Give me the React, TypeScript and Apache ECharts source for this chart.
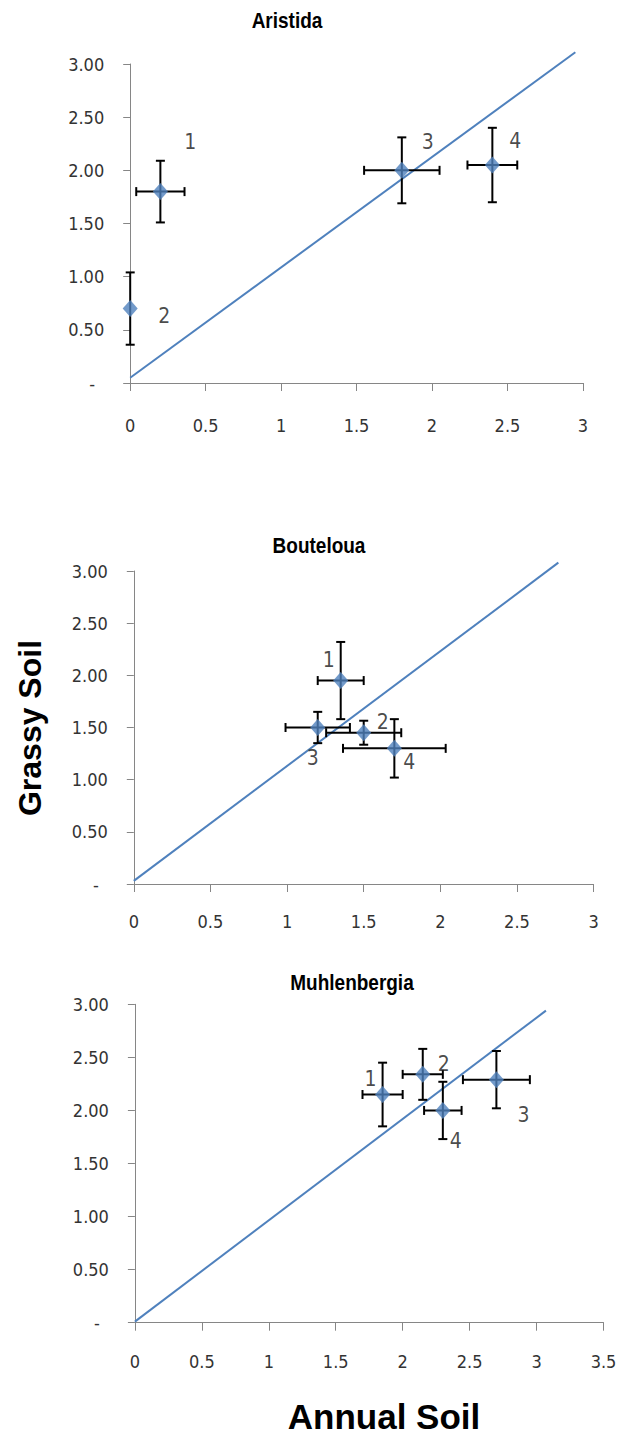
import React, { useEffect, useRef } from "react";
import * as echarts from "echarts";

// ---- data ----
const pointNames = ["1", "2", "3", "4"];

const aristidaX = [0.2, 0, 1.8, 2.4];
const aristidaY = [1.8, 0.7, 2.0, 2.05];
const aristidaXErr = [0.16, 0, 0.25, 0.165];
const aristidaYErr = [0.29, 0.34, 0.31, 0.35];
const aristidaLine = [[0, 0.05], [2.95, 3.11]];

const boutelouaX = [1.35, 1.5, 1.2, 1.7];
const boutelouaY = [1.95, 1.45, 1.5, 1.3];
const boutelouaXErr = [0.15, 0.245, 0.21, 0.335];
const boutelouaYErr = [0.37, 0.115, 0.15, 0.28];
const boutelouaLine = [[0, 0.03], [2.77, 3.08]];

const muhlenbergiaX = [1.85, 2.15, 2.7, 2.3];
const muhlenbergiaY = [2.15, 2.34, 2.29, 2.0];
const muhlenbergiaXErr = [0.15, 0.15, 0.25, 0.14];
const muhlenbergiaYErr = [0.3, 0.24, 0.27, 0.27];
const muhlenbergiaLine = [[0, 0.01], [3.07, 2.94]];

const yTicks = [0, 0.5, 1, 1.5, 2, 2.5, 3];
const panelTitles = ["Aristida", "Bouteloua", "Muhlenbergia"];
const xMaxes = [3, 3, 3.5];
const yAxisTitle = "Grassy Soil";
const xAxisTitle = "Annual Soil";

// ---- layout / styles (not data) ----
const labelOffsets = [
  [[30, -50], [34, 7], [26, -28], [23, -24]],
  [[-12, -21], [19, -11], [-5, 30], [15, 14]],
  [[-12, -16], [21, -10], [27, 35], [13, 31]],
];
const grids = [
  { left: 130.2, top: 64, width: 452.7, height: 319 },
  { left: 133.8, top: 571, width: 459.8, height: 313 },
  { left: 134.9, top: 1004.3, width: 468.6, height: 318.4 },
];
const xLabelMargins = [33, 28, 30];
const titlePos = [
  [287, 20],
  [319, 545],
  [352, 982],
];

const COND = "'DejaVu Sans Condensed', 'DejaVu Sans', sans-serif";
const SANS = "'Liberation Sans', Arial, sans-serif";
const BLUE = "#4F81BD";
const AXIS = "#868686";

export default function App() {
  const ref = useRef<HTMLDivElement>(null);
  useEffect(() => {
    if (!ref.current) return;
    const chart = echarts.init(ref.current, null, { renderer: "svg" });

    const panels = [
      { x: aristidaX, y: aristidaY, ex: aristidaXErr, ey: aristidaYErr, line: aristidaLine },
      { x: boutelouaX, y: boutelouaY, ex: boutelouaXErr, ey: boutelouaYErr, line: boutelouaLine },
      { x: muhlenbergiaX, y: muhlenbergiaY, ex: muhlenbergiaXErr, ey: muhlenbergiaYErr, line: muhlenbergiaLine },
    ];

    const xAxes: any[] = [];
    const yAxes: any[] = [];
    const series: any[] = [];

    panels.forEach((p, i) => {
      xAxes.push({
        type: "value",
        gridIndex: i,
        min: 0,
        max: xMaxes[i],
        interval: 0.5,
        splitLine: { show: false },
        axisLine: { show: true, onZero: false, lineStyle: { color: AXIS, width: 1 } },
        axisTick: { show: true, length: 8, lineStyle: { color: AXIS } },
        axisLabel: {
          margin: xLabelMargins[i],
          color: "#333",
          fontFamily: COND,
          fontSize: 18,
          formatter: (v: number) => String(v),
        },
      });
      yAxes.push({
        type: "value",
        gridIndex: i,
        min: yTicks[0],
        max: yTicks[yTicks.length - 1],
        interval: 0.5,
        splitLine: { show: false },
        axisLine: { show: true, onZero: false, lineStyle: { color: AXIS, width: 1 } },
        axisTick: { show: true, length: 7, lineStyle: { color: AXIS } },
        axisLabel: {
          margin: 26,
          color: "#333",
          fontFamily: COND,
          fontSize: 18,
          formatter: (v: number) => (v === 0 ? "{d|-}" : v.toFixed(2)),
          rich: { d: { padding: [0, 9, 0, 0], fontFamily: COND, fontSize: 18, color: "#333" } },
        },
      });

      series.push({
        type: "line",
        xAxisIndex: i,
        yAxisIndex: i,
        data: p.line,
        showSymbol: false,
        symbol: "none",
        clip: false,
        lineStyle: { color: BLUE, width: 2 },
        z: 1,
      });

      series.push({
        type: "custom",
        xAxisIndex: i,
        yAxisIndex: i,
        clip: false,
        z: 2,
        data: p.x.map((xv, k) => [xv, p.y[k], p.ex[k], p.ey[k]]),
        encode: { x: 0, y: 1 },
        renderItem: (params: any, api: any) => {
          const x = api.value(0);
          const y = api.value(1);
          const ex = api.value(2);
          const ey = api.value(3);
          const cap = 4.5;
          const children: any[] = [];
          const st = { stroke: "#000", lineWidth: 2 };
          if (ey > 0) {
            const t = api.coord([x, y + ey]);
            const b = api.coord([x, y - ey]);
            children.push({ type: "line", shape: { x1: t[0], y1: t[1], x2: b[0], y2: b[1] }, style: st });
            children.push({ type: "line", shape: { x1: t[0] - cap, y1: t[1], x2: t[0] + cap, y2: t[1] }, style: st });
            children.push({ type: "line", shape: { x1: b[0] - cap, y1: b[1], x2: b[0] + cap, y2: b[1] }, style: st });
          }
          if (ex > 0) {
            const l = api.coord([x - ex, y]);
            const r = api.coord([x + ex, y]);
            children.push({ type: "line", shape: { x1: l[0], y1: l[1], x2: r[0], y2: r[1] }, style: st });
            children.push({ type: "line", shape: { x1: l[0], y1: l[1] - cap, x2: l[0], y2: l[1] + cap }, style: st });
            children.push({ type: "line", shape: { x1: r[0], y1: r[1] - cap, x2: r[0], y2: r[1] + cap }, style: st });
          }
          return { type: "group", children };
        },
      });

      series.push({
        type: "scatter",
        xAxisIndex: i,
        yAxisIndex: i,
        symbol: "diamond",
        symbolSize: [15, 17],
        itemStyle: { color: BLUE },
        z: 3,
        data: p.x.map((xv, k) => ({
          value: [xv, p.y[k]],
          name: pointNames[k],
          label: {
            show: true,
            position: "inside",
            offset: labelOffsets[i][k],
            formatter: pointNames[k],
            color: "#1a1a1a",
            fontFamily: COND,
            fontSize: 21,
          },
        })),
      });
    });

    const graphics: any[] = panelTitles.map((t, i) => ({
      type: "text",
      x: titlePos[i][0],
      y: titlePos[i][1],
      scaleY: 1.2,
      style: {
        text: t,
        fontFamily: SANS,
        fontWeight: "bold",
        fontSize: 19,
        fill: "#000",
        textAlign: "center",
        textVerticalAlign: "middle",
      },
    }));
    graphics.push({
      type: "text",
      x: 30,
      y: 728,
      rotation: Math.PI / 2,
      style: {
        text: yAxisTitle,
        fontFamily: SANS,
        fontWeight: "bold",
        fontSize: 32,
        fill: "#000",
        textAlign: "center",
        textVerticalAlign: "middle",
      },
    });
    graphics.push({
      type: "text",
      x: 384,
      y: 1416,
      style: {
        text: xAxisTitle,
        fontFamily: SANS,
        fontWeight: "bold",
        fontSize: 35,
        fill: "#000",
        textAlign: "center",
        textVerticalAlign: "middle",
      },
    });

    chart.setOption({
      animation: false,
      backgroundColor: "#fff",
      grid: grids.map((g) => ({ ...g, containLabel: false })),
      xAxis: xAxes,
      yAxis: yAxes,
      series,
      graphic: graphics,
    });
    return () => chart.dispose();
  }, []);

  return (
    <div
      ref={ref}
      style={{ position: "fixed", left: 0, top: 0, width: 624, height: 1434 }}
    />
  );
}
